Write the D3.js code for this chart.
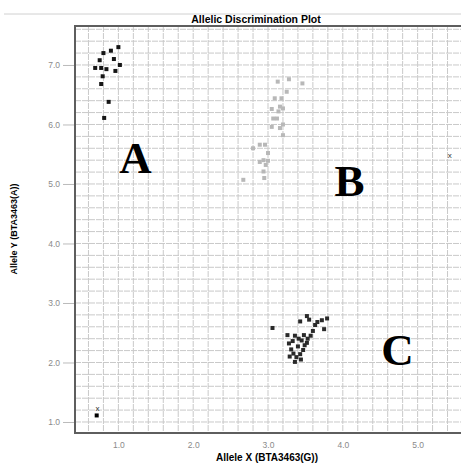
<!DOCTYPE html>
<html>
<head>
<meta charset="UTF-8">
<script src="https://d3js.org/d3.v7.min.js"></script>
<title>Allelic Discrimination Plot</title>
<style>
  body { margin: 0; background: #fff; }
  svg { display: block; }
</style>
</head>
<body>
<div id="chart"></div>
<script>
// data
var chartTitle = "Allelic Discrimination Plot";
var xTitle = "Allele X (BTA3463(G))";
var yTitle = "Allele Y (BTA3463(A))";
var xTicks = [1.0, 2.0, 3.0, 4.0, 5.0];
var yTicks = [1.0, 2.0, 3.0, 4.0, 5.0, 6.0, 7.0];

// homozygous Y (cluster A)
var clusterA = [[1.00, 7.30], [0.90, 7.24], [0.80, 7.20], [0.94, 7.10], [0.75, 7.08],
  [1.02, 7.00], [0.69, 6.95], [0.77, 6.95], [0.84, 6.93], [0.96, 6.90],
  [0.79, 6.81], [0.77, 6.68], [0.87, 6.38], [0.81, 6.11]];

// heterozygous (cluster B)
var clusterB = [[3.28, 6.76], [3.13, 6.72], [3.46, 6.69], [3.25, 6.55], [3.09, 6.44],
  [3.18, 6.44], [3.16, 6.30], [3.20, 6.27], [3.05, 6.26], [3.14, 6.22],
  [3.12, 6.10], [3.07, 6.10], [3.20, 6.00], [3.05, 5.96], [3.16, 5.94],
  [3.20, 5.82], [2.96, 5.66], [2.89, 5.66], [2.80, 5.60], [3.00, 5.52],
  [2.94, 5.40], [3.00, 5.39], [2.89, 5.37], [2.97, 5.32], [2.94, 5.21],
  [2.95, 5.10], [2.67, 5.07]];

// homozygous X (cluster C)
var clusterC = [[3.52, 2.78], [3.43, 2.69], [3.79, 2.74], [3.72, 2.71], [3.63, 2.63],
  [3.60, 2.53], [3.75, 2.56], [3.06, 2.58], [3.26, 2.46], [3.36, 2.45],
  [3.48, 2.46], [3.57, 2.45], [3.45, 2.37], [3.28, 2.32], [3.49, 2.29],
  [3.40, 2.27], [3.47, 2.21], [3.34, 2.15], [3.43, 2.14], [3.29, 2.10],
  [3.38, 2.09], [3.36, 2.01], [3.55, 2.72], [3.66, 2.68], [3.53, 2.40],
  [3.33, 2.36], [3.44, 2.05], [3.52, 2.33], [3.31, 2.22], [3.41, 2.40]];

var ntc = [[0.71, 1.11]];
var undetermined = [[5.43, 5.49], [0.72, 1.23]];

var clusterLabels = ["A", "B", "C"];
var labelPos = [[1.23, 5.185], [4.09, 4.80], [4.73, 1.96]];

var width = 461, height = 464;
var margin = { top: 26, right: 0, bottom: 31, left: 75 };

var svg = d3.select("#chart").append("svg")
  .attr("width", width)
  .attr("height", height);

var x = d3.scaleLinear()
  .domain([0.42, 5.58])
  .range([margin.left, width - margin.right]);

var y = d3.scaleLinear()
  .domain([0.815, 7.655])
  .range([height - margin.bottom, margin.top]);

// thin rule above the title
svg.append("line")
  .attr("x1", 4).attr("x2", width)
  .attr("y1", 14).attr("y2", 14)
  .attr("stroke", "#d0d0d0");

svg.append("text")
  .attr("x", 256).attr("y", 23)
  .attr("text-anchor", "middle")
  .attr("font-family", "Liberation Sans, Arial, sans-serif")
  .attr("font-weight", "bold")
  .attr("font-size", "10.5px")
  .text(chartTitle);

// grid every 0.2
var gx = d3.range(0.6, 5.6, 0.2);
var gy = d3.range(1.0, 7.65, 0.2);
var grid = svg.append("g")
  .attr("stroke", "#c9c9c9")
  .attr("stroke-dasharray", "6,1");
grid.selectAll("line.vx")
  .data(gx)
  .enter().append("line")
  .attr("x1", function(d) { return x(d); })
  .attr("x2", function(d) { return x(d); })
  .attr("y1", y.range()[1]).attr("y2", y.range()[0]);
grid.selectAll("line.hy")
  .data(gy)
  .enter().append("line")
  .attr("y1", function(d) { return y(d); })
  .attr("y2", function(d) { return y(d); })
  .attr("x1", x.range()[0]).attr("x2", x.range()[1]);

// axes
var xAxis = svg.append("g")
  .attr("transform", "translate(0," + (height - margin.bottom) + ")")
  .call(d3.axisBottom(x).tickValues(xTicks).tickFormat(d3.format(".1f")).tickSize(0).tickPadding(9));
var yAxis = svg.append("g")
  .attr("transform", "translate(" + margin.left + ",0)")
  .call(d3.axisLeft(y).tickValues(yTicks).tickFormat(d3.format(".1f")).tickSize(12).tickPadding(3));

[xAxis, yAxis].forEach(function(a) {
  a.select(".domain").remove();
  a.selectAll("text")
    .attr("fill", "#8a8a8a")
    .attr("font-family", "Liberation Sans, Arial, sans-serif")
    .attr("font-size", "8.5px");
  a.selectAll(".tick line").attr("stroke", "#bbbbbb");
});

// frame (left, top, bottom)
svg.append("path")
  .attr("d", "M" + x.range()[1] + "," + y.range()[1] + "H" + x.range()[0] +
    "V" + y.range()[0] + "H" + x.range()[1])
  .attr("fill", "none")
  .attr("stroke", "#5e5e5e")
  .attr("stroke-width", 2);

// axis titles
svg.append("text")
  .attr("x", 267).attr("y", 461)
  .attr("text-anchor", "middle")
  .attr("font-family", "Liberation Sans, Arial, sans-serif")
  .attr("font-weight", "bold")
  .attr("font-size", "10px")
  .text(xTitle);

svg.append("text")
  .attr("transform", "translate(17,229) rotate(-90)")
  .attr("text-anchor", "middle")
  .attr("font-family", "Liberation Sans Narrow, Liberation Sans, Arial, sans-serif")
  .attr("font-weight", "bold")
  .attr("font-size", "9px")
  .text(yTitle);

// points
function drawSquares(data, color) {
  svg.append("g").selectAll("rect")
    .data(data)
    .enter().append("rect")
    .attr("x", function(d) { return x(d[0]) - 2; })
    .attr("y", function(d) { return y(d[1]) - 2; })
    .attr("width", 4)
    .attr("height", 4)
    .attr("fill", color);
}
drawSquares(clusterB, "#b8b8b8");
drawSquares(clusterC, "#2a2a2a");
drawSquares(clusterA, "#151515");
drawSquares(ntc, "#000");

svg.append("g").selectAll("text")
  .data(undetermined)
  .enter().append("text")
  .attr("x", function(d) { return x(d[0]); })
  .attr("y", function(d) { return y(d[1]) + 3; })
  .attr("text-anchor", "middle")
  .attr("font-family", "Liberation Sans, Arial, sans-serif")
  .attr("font-size", "8px")
  .attr("fill", "#333")
  .text("x");

// cluster letters
svg.append("g").selectAll("text")
  .data(clusterLabels)
  .enter().append("text")
  .attr("x", function(d, i) { return x(labelPos[i][0]); })
  .attr("y", function(d, i) { return y(labelPos[i][1]); })
  .attr("text-anchor", "middle")
  .attr("font-family", "Liberation Serif, Times New Roman, serif")
  .attr("font-weight", "bold")
  .attr("font-size", "45px")
  .attr("fill", "#000")
  .text(function(d) { return d; });
</script>
</body>
</html>
